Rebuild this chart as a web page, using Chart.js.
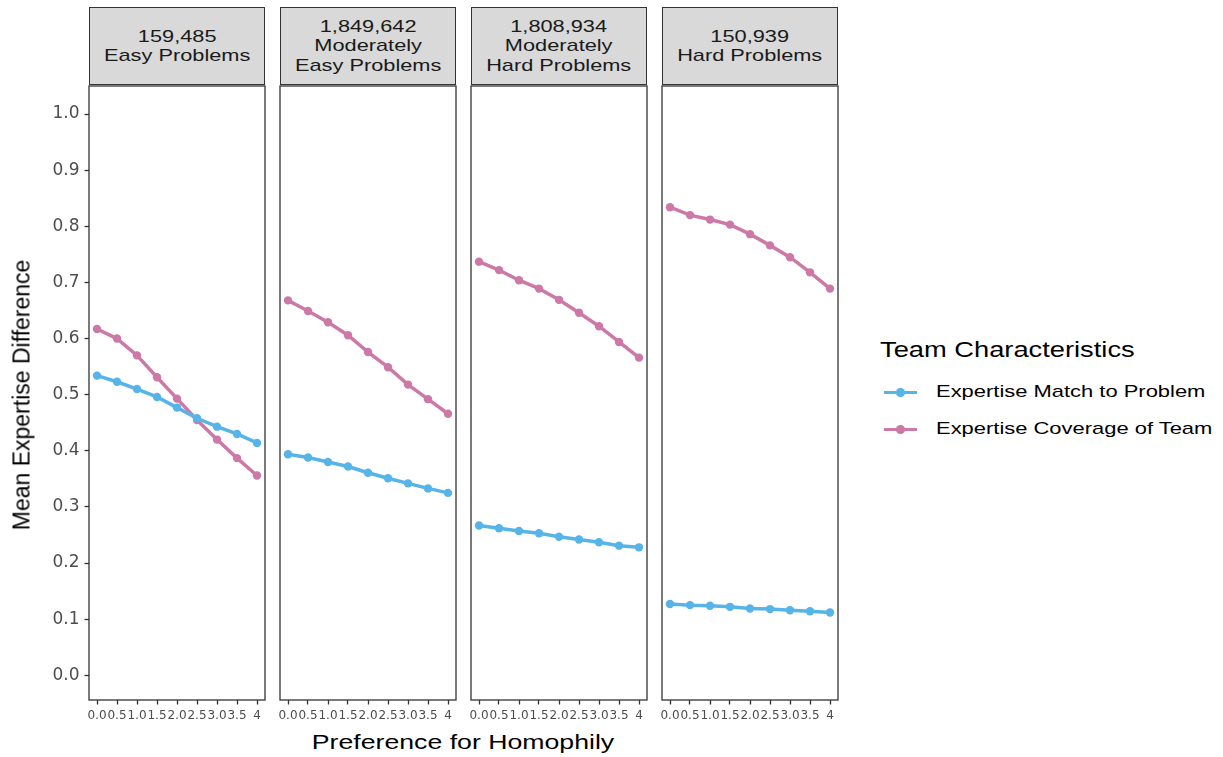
<!DOCTYPE html>
<html>
<head>
<meta charset="utf-8">
<script src="https://cdn.jsdelivr.net/npm/chart.js@4.4.1/dist/chart.umd.min.js"></script>
<style>
  body { margin: 0; background: #fff; font-family: "Liberation Sans", Arial, sans-serif; }
  #wrap { position: relative; width: 1223px; height: 757px; overflow: hidden; }
  canvas { position: absolute; }
  .strip {
    position: absolute; top: 7px; height: 78px; width: 176px;
    background: #d9d9d9; border: 1.3px solid #333; box-sizing: border-box;
    display: flex; align-items: center; justify-content: center;
    text-align: center; font-size: 17px; line-height: 19.5px; color: #1a1a1a;
  }
  .strip span { display: inline-block; transform: scaleX(1.28); white-space: nowrap; }
  .ytitle {
    position: absolute; left: 22px; top: 395px; font-size: 23px; color: #000;
    transform: translate(-50%, -50%) rotate(-90deg); white-space: nowrap;
  }
  .xtitle {
    position: absolute; left: 463px; top: 742px; font-size: 21px; color: #000;
    transform: translate(-50%, -50%) scaleX(1.27); white-space: nowrap;
  }
  .legend { position: absolute; left: 880px; top: 337px; color: #000; }
  .legend .ttl { font-size: 22px; margin-bottom: 19px; transform: scaleX(1.24); transform-origin: left; white-space: nowrap; }
  .legend .item { position: relative; height: 37px; font-size: 17px; padding-left: 56px; line-height: 20px; white-space: nowrap; }
  .legend .item .txt { display: inline-block; transform: scaleX(1.29); transform-origin: left; }
  .legend .sw { position: absolute; left: 4px; top: 8.5px; width: 33px; height: 3.5px; }
  .legend .dot { position: absolute; left: 16px; top: 6px; width: 8.5px; height: 8.5px; border-radius: 50%; }
</style>
</head>
<body>
<div id="wrap"></div>
<script>
// facet labels
const facets = ["159,485\nEasy Problems", "1,849,642\nModerately\nEasy Problems",
                "1,808,934\nModerately\nHard Problems", "150,939\nHard Problems"];
const homophily = [0, 0.5, 1, 1.5, 2, 2.5, 3, 3.5, 4];
const xTickLabels = ["0.0", "0.5", "1.0", "1.5", "2.0", "2.5", "3.0", "3.5", "4"];
const yTicks = [0, 0.1, 0.2, 0.3, 0.4, 0.5, 0.6, 0.7, 0.8, 0.9, 1.0];
const seriesNames = ["Expertise Match to Problem", "Expertise Coverage of Team"];
const seriesColors = ["#56B4E9", "#CC79A7"];

// values per facet
const matchEasy = [0.534, 0.523, 0.510, 0.496, 0.477, 0.458, 0.443, 0.430, 0.414];
const coverEasy = [0.617, 0.600, 0.570, 0.531, 0.493, 0.455, 0.420, 0.387, 0.356];
const matchModEasy = [0.394, 0.388, 0.380, 0.372, 0.361, 0.351, 0.342, 0.333, 0.325];
const coverModEasy = [0.668, 0.649, 0.629, 0.606, 0.576, 0.549, 0.518, 0.492, 0.466];
const matchModHard = [0.267, 0.262, 0.257, 0.253, 0.247, 0.242, 0.237, 0.231, 0.228];
const coverModHard = [0.737, 0.722, 0.704, 0.689, 0.669, 0.646, 0.622, 0.594, 0.566];
const matchHard = [0.127, 0.125, 0.124, 0.122, 0.119, 0.118, 0.116, 0.114, 0.112];
const coverHard = [0.834, 0.820, 0.812, 0.803, 0.786, 0.766, 0.745, 0.718, 0.689];

const panelData = [[matchEasy, coverEasy], [matchModEasy, coverModEasy],
                   [matchModHard, coverModHard], [matchHard, coverHard]];
const panelLeft = [89, 280, 471, 662];
const panelW = 176;

const wrap = document.getElementById("wrap");

// draws the box round each panel
const boxPlugin = {
  id: "box",
  afterDraw(chart) {
    const a = chart.chartArea, ctx = chart.ctx;
    ctx.save();
    ctx.strokeStyle = "#333";
    ctx.lineWidth = 1.3;
    ctx.strokeRect(a.left, a.top, a.right - a.left, a.bottom - a.top);
    ctx.restore();
  }
};

panelData.forEach((vals, i) => {
  const strip = document.createElement("div");
  strip.className = "strip";
  strip.style.left = panelLeft[i] + "px";
  strip.innerHTML = "<span>" + facets[i].split("\n").join("<br>") + "</span>";
  wrap.appendChild(strip);

  const first = i === 0;
  const padL = first ? 0 : 10;
  const yW = first ? 89 : 0;
  const left = first ? 0 : panelLeft[i] - padL;
  const width = (first ? 89 : padL) + panelW + 10;

  const cv = document.createElement("canvas");
  cv.width = width; cv.height = 650;
  cv.style.left = left + "px"; cv.style.top = "80px";
  wrap.appendChild(cv);

  new Chart(cv, {
    type: "line",
    data: {
      datasets: vals.map((v, k) => ({
        label: seriesNames[k],
        data: homophily.map((h, j) => ({ x: h, y: v[j] })),
        borderColor: seriesColors[k],
        backgroundColor: seriesColors[k],
        borderWidth: 3.5,
        pointRadius: 4.2,
        pointBorderWidth: 0,
        tension: 0
      }))
    },
    options: {
      responsive: false,
      animation: false,
      layout: { padding: { left: padL, right: 10, top: 6, bottom: 0 } },
      plugins: { legend: { display: false }, tooltip: { enabled: false } },
      scales: {
        x: {
          type: "linear", min: -0.2, max: 4.2,
          afterBuildTicks: s => { s.ticks = homophily.map(v => ({ value: v })); },
          afterFit: s => { s.height = 30; },
          grid: { drawOnChartArea: false, drawTicks: true, tickLength: 4.5, tickColor: "#333", tickWidth: 1.3 },
          border: { display: false },
          ticks: {
            autoSkip: false, maxRotation: 0, minRotation: 0, padding: 4,
            color: "#4d4d4d", font: { size: 12, family: "DejaVu Sans" },
            callback: (v, idx) => xTickLabels[idx]
          }
        },
        y: {
          display: first,
          min: -0.044, max: 1.050,
          afterBuildTicks: s => { s.ticks = yTicks.map(v => ({ value: v })); },
          afterFit: s => { s.width = yW; s.paddingTop = 0; s.paddingBottom = 0; },
          grid: { drawOnChartArea: false, drawTicks: true, tickLength: 4.5, tickColor: "#333", tickWidth: 1.3 },
          border: { display: false },
          ticks: {
            padding: 5, color: "#4d4d4d", font: { size: 17, family: "DejaVu Sans" },
            callback: v => v.toFixed(1)
          }
        }
      }
    },
    plugins: [boxPlugin]
  });
});

const yt = document.createElement("div");
yt.className = "ytitle"; yt.textContent = "Mean Expertise Difference";
wrap.appendChild(yt);
const xt = document.createElement("div");
xt.className = "xtitle"; xt.textContent = "Preference for Homophily";
wrap.appendChild(xt);

const lg = document.createElement("div");
lg.className = "legend";
lg.innerHTML = '<div class="ttl">Team Characteristics</div>' + seriesNames.map((n, k) =>
  '<div class="item"><span class="sw" style="background:' + seriesColors[k] + '"></span>' +
  '<span class="dot" style="background:' + seriesColors[k] + '"></span><span class="txt">' + n + '</span></div>').join("");
wrap.appendChild(lg);
</script>
</body>
</html>
